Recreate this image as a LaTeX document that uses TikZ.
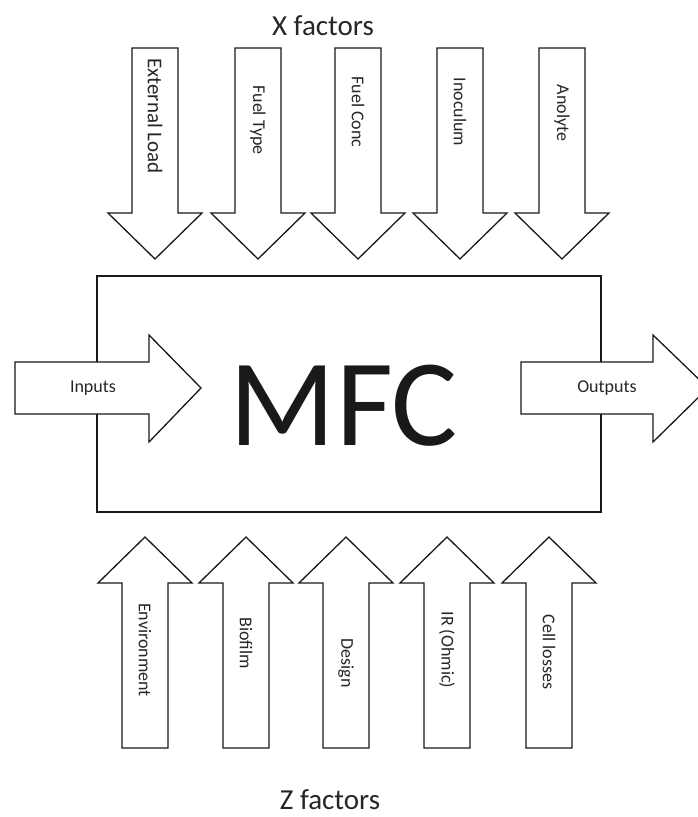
\documentclass[tikz,border=0pt]{standalone}
\usepackage{fontspec}
\setmainfont{Carlito}
\usetikzlibrary{calc}
\tikzset{
  blockarrow/.style={draw=black!90, line width=1.3pt, fill=white, line join=miter},
  factor/.style={rotate=-90, inner sep=0pt, text=black!85},
}
\begin{document}
\begin{tikzpicture}[x=1pt,y=-1pt]
  \useasboundingbox (0,0) rectangle (697,817);
  % the cell
  \draw[line width=1.3pt, black!90] (97,276) rectangle (601,512);
  \node[anchor=base, text=black!90, font=\fontsize{124}{124}\selectfont] (mfc) at (344,445) {MFC};
  % X factors, arrows pointing down
  \node[anchor=base, text=black!85, font=\fontsize{29}{29}\selectfont] (xf) at (323,35) {X factors};
  \foreach \cx/\ty/\fs/\name/\txt in {155/116/21/load/External Load, 258/120/18/type/Fuel Type,
      358/112/18/conc/Fuel Conc, 460/112/18/inoc/Inoculum, 562/113/18/anol/Anolyte}
  {
    \draw[blockarrow] (\cx-23,48) -- (\cx+23,48) -- (\cx+23,213) -- (\cx+47,213)
      -- (\cx,259) -- (\cx-47,213) -- (\cx-23,213) -- cycle;
    \node[factor, font=\fontsize{\fs}{\fs}\selectfont] (\name) at (\cx,\ty) {\txt};
  }
  % Z factors, arrows pointing up
  \node[anchor=base, text=black!85, font=\fontsize{29}{29}\selectfont] (zf) at (330,809) {Z factors};
  \foreach \cx/\ty/\name/\txt in {145/650/env/Environment, 246/643/bio/Biofilm,
      346/663/des/Design, 447/650/ir/IR (Ohmic), 549/652/loss/Cell losses}
  {
    \draw[blockarrow] (\cx-23,748) -- (\cx+23,748) -- (\cx+23,583) -- (\cx+47,583)
      -- (\cx,537) -- (\cx-47,583) -- (\cx-23,583) -- cycle;
    \node[factor, font=\fontsize{18}{18}\selectfont] (\name) at (\cx,\ty) {\txt};
  }
  % inputs and outputs
  \draw[blockarrow] (15,362) -- (149,362) -- (149,335) -- (201,388) -- (149,442)
    -- (149,414) -- (15,414) -- cycle;
  \node[text=black!85, font=\fontsize{18}{18}\selectfont] (in) at (93,388) {Inputs};
  \draw[blockarrow] (521,362) -- (653,362) -- (653,335) -- (708,388) -- (653,442)
    -- (653,414) -- (521,414) -- cycle;
  \node[text=black!85, font=\fontsize{18}{18}\selectfont] (out) at (607,388) {Outputs};
\end{tikzpicture}
\end{document}
